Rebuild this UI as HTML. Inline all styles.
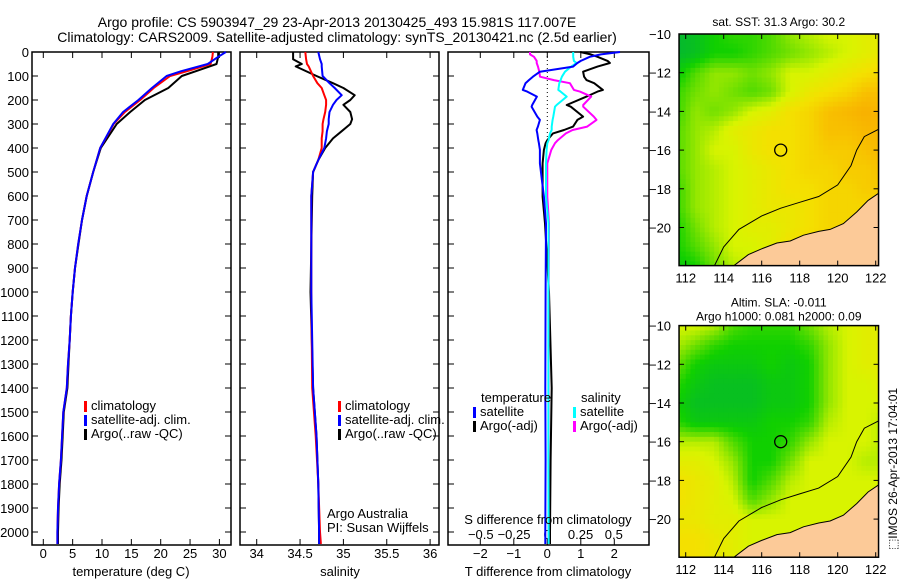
<!DOCTYPE html>
<html><head><meta charset="utf-8"><style>
html,body{margin:0;padding:0;background:#fff;}
svg{display:block;font-family:"Liberation Sans",sans-serif;}
text{font-size:13px;fill:#000;}
</style></head><body>
<svg id="fig" width="900" height="580" viewBox="0 0 900 580" xmlns="http://www.w3.org/2000/svg">
<text x="337" y="27" text-anchor="middle" style="font-size:14px">Argo profile: CS 5903947_29 23-Apr-2013 20130425_493 15.981S 117.007E</text>
<text x="337" y="42" text-anchor="middle" style="font-size:14px">Climatology: CARS2009. Satellite-adjusted climatology: synTS_20130421.nc (2.5d earlier)</text>
<g id="g-maps"></g>
<g id="g-panels"></g>
<text transform="translate(897,469) rotate(-90)" text-anchor="middle" style="font-size:12px">⬚IMOS 26-Apr-2013 17:04:01</text>
</svg>
<script>
// ---------- data ----------
const depths = [0,20,50,80,100,150,200,250,300,400,500,600,700,800,900,1000,1100,1200,1300,1400,1500,1600,1700,1800,1900,2000,2050];
const tempClim = [28.9,28.8,28.5,24.5,21.6,18.8,16.5,13.9,12.0,9.7,8.5,7.4,6.6,5.95,5.4,5.0,4.7,4.5,4.2,4.0,3.4,3.2,3.0,2.7,2.5,2.4,2.4];
const tempSat = [31.1,29.8,28.0,23.5,21.0,18.5,16.2,13.6,11.9,9.7,8.5,7.4,6.6,5.95,5.4,5.0,4.7,4.5,4.2,4.0,3.4,3.2,3.0,2.7,2.5,2.4,2.4];
const tempArgo = [29.8,29.8,29.5,26.0,23.6,21.3,17.3,14.8,12.5,9.8,8.5,7.4,6.6,6.0,5.4,5.0,4.7,4.5,4.3,4.1,3.5,3.3,3.1,2.8,2.6,2.5,2.5];
const salDepths = [0,30,50,60,100,130,150,180,200,220,250,280,300,330,360,400,450,500,600,1000,1400,1600,1800,2000,2050];
const salClim = [34.56,34.57,34.58,34.6,34.65,34.7,34.75,34.78,34.8,34.8,34.79,34.77,34.76,34.76,34.75,34.75,34.71,34.65,34.63,34.63,34.64,34.68,34.71,34.73,34.74];
const salSat = [34.71,34.73,34.75,34.75,34.76,34.84,34.9,34.98,34.92,34.88,34.84,34.83,34.83,34.81,34.8,34.78,34.71,34.65,34.63,34.63,34.65,34.69,34.71,34.72,34.72];
const salArgo = [34.42,34.42,34.52,34.45,34.69,34.88,35.0,35.13,35.08,35.0,35.08,35.1,35.08,34.98,34.88,34.79,34.71,34.65,34.64,34.62,34.65,34.69,34.71,34.72,34.72];
const diffDepths = [0,10,20,37,46,61,82,103,117,130,158,165,186,221,228,269,283,311,325,339,367,380,408,464,603,714,1000,1400,1700,2000,2050];
const dTSat = [2.17,1.6,1.27,1.0,0.9,0.77,-0.22,-0.43,-0.55,-0.65,-0.73,-0.6,-0.31,-0.45,-0.47,-0.3,-0.22,-0.28,-0.32,-0.3,-0.27,-0.25,-0.22,-0.22,-0.1,-0.04,-0.05,-0.06,-0.05,-0.06,-0.06];
const dTArgo = [0.98,1.3,1.5,1.8,1.87,1.5,1.07,1.1,1.17,1.4,1.66,1.5,1.17,0.58,0.7,1.07,0.9,0.77,0.5,0.17,0,-0.05,-0.1,-0.14,-0.14,-0.07,0.05,0.13,0.1,0.08,0.08];
const dSSat = [0.195,0.195,0.195,0.2,0.22,0.18,0.133,0.11,0.1,0.09,0.083,0.1,0.146,0.07,0.058,0.045,0.04,0.033,0.033,0.02,0.01,0.0,-0.005,-0.01,-0.01,0.01,0.008,0.008,0.008,0.01,0.01];
const dSArgo = [-0.13,-0.13,-0.1,-0.08,-0.08,-0.07,-0.06,-0.055,0.05,0.17,0.2,0.245,0.33,0.27,0.27,0.35,0.37,0.3,0.19,0.14,0.08,0.058,0.03,0.0,0.0,0.013,0.01,0.01,0.01,0.01,0.01];
const depthTicks = [0,100,200,300,400,500,600,700,800,900,1000,1100,1200,1300,1400,1500,1600,1700,1800,1900,2000];
const tempTicks = [0,5,10,15,20,25,30];
const salTicks = [34,34.5,35,35.5,36];
const dTTicks = [-2,-1,0,1,2];
const dSTicks = [-0.5,-0.25,0,0.25,0.5];
const lonTicks = [112,114,116,118,120,122];
const latTicks = [-10,-12,-14,-16,-18,-20];
// map grids: rows lat -10..-22, cols lon 111.5..122.5 (0 green .. 1 yellow .. 2 orange)
const sstGrid = [
[0.1,0.2,0.4,0.5,0.5,0.6,0.8,0.9,1.0,1.0,1.1,1.1],
[0.1,0.2,0.4,0.4,0.5,0.6,0.7,0.8,0.9,1.0,1.1,1.2],
[0.3,0.6,0.8,0.8,0.7,0.8,1.0,1.0,1.1,1.2,1.3,1.4],
[0.5,0.7,0.8,0.7,0.6,0.7,1.0,1.2,1.3,1.4,1.6,1.6],
[0.5,0.8,0.7,0.8,1.0,1.1,1.3,1.4,1.6,1.7,1.8,1.7],
[0.6,0.8,0.9,1.1,1.2,1.3,1.3,1.4,1.6,1.6,1.7,1.7],
[0.6,0.8,1.0,1.0,1.2,1.3,1.3,1.4,1.5,1.5,1.6,1.7],
[0.6,0.8,0.9,1.0,1.1,1.2,1.3,1.4,1.4,1.5,1.5,1.6],
[0.5,0.8,0.9,1.0,1.1,1.2,1.3,1.3,1.4,1.4,1.5,1.5],
[0.5,0.8,0.9,1.0,1.1,1.2,1.2,1.3,1.4,1.4,1.4,1.4],
[0.4,0.7,0.9,1.0,1.1,1.1,1.2,1.3,1.4,1.4,1.4,1.4],
[0.4,0.6,0.8,1.0,1.0,1.1,1.3,1.4,1.4,1.4,1.4,1.4],
[0.3,0.4,0.7,0.9,1.0,1.1,1.3,1.4,1.4,1.4,1.4,1.4]];
const slaGrid = [
[1.0,1.0,0.9,0.6,0.5,0.5,0.5,0.7,0.9,1.0,1.1,1.1],
[0.9,0.7,0.5,0.4,0.4,0.4,0.4,0.5,0.8,1.0,1.1,1.1],
[0.7,0.4,0.3,0.3,0.3,0.4,0.3,0.4,0.8,1.0,1.1,1.1],
[0.5,0.3,0.2,0.2,0.2,0.3,0.3,0.4,0.8,1.0,1.0,1.1],
[0.4,0.2,0.2,0.2,0.2,0.3,0.3,0.4,0.8,1.0,1.0,1.0],
[0.5,0.3,0.3,0.3,0.3,0.4,0.4,0.5,0.9,1.0,1.0,0.9],
[0.9,0.9,0.9,0.6,0.4,0.4,0.5,0.8,1.0,1.0,1.0,0.9],
[1.1,1.1,1.0,0.8,0.4,0.4,0.7,1.0,1.0,1.0,0.9,0.9],
[1.3,1.2,1.1,0.9,0.4,0.6,0.9,1.0,1.0,1.0,1.0,1.0],
[1.3,1.2,1.1,1.0,0.6,0.8,1.0,1.0,1.0,1.0,1.0,1.0],
[1.2,1.2,1.1,1.1,1.0,1.0,1.0,1.0,1.0,1.0,1.0,1.0],
[1.3,1.3,1.2,1.1,1.0,1.0,1.0,1.0,1.0,1.0,1.0,1.0],
[1.3,1.3,1.2,1.1,1.0,1.0,1.0,1.0,1.0,1.0,1.0,1.0]];
const coastLon = [114.5,115.3,116.0,116.8,117.5,118.2,119.0,119.6,120.3,121.0,121.6,122.2,122.3,122.3];
const coastLat = [-22,-21.4,-21.1,-20.8,-20.7,-20.4,-20.2,-20.1,-19.8,-19.2,-18.6,-18.2,-18.2,-22];
const isoLon = [113.5,114.0,114.8,116.0,117.0,118.0,119.0,120.0,120.7,121.0,121.4,122.2];
const isoLat = [-22,-21.0,-20.1,-19.4,-19.0,-18.7,-18.4,-17.8,-16.8,-16.0,-15.3,-14.9];
const argoLon = 117.0, argoLat = -16.0;

// ---------- helpers ----------
const NS="http://www.w3.org/2000/svg";
function mk(tag, attrs, parent, txt){const e=document.createElementNS(NS,tag);for(const k in attrs)e.setAttribute(k,attrs[k]);if(txt!==undefined)e.textContent=txt;parent.appendChild(e);return e;}
const panels=document.getElementById('g-panels');
const maps=document.getElementById('g-maps');
const yD = d => 52 + d*0.24;
const PT=52, PB=545;
const xT = v => 43.3 + v*5.87;
const xS = v => 256.7 + (v-34)*86.7;
const xdT = v => 547.3 + v*33.5;
const xdS = v => 547.3 + v*133;

function frame(x0,x1,name){
  const r=mk('rect',{x:x0,y:PT,width:x1-x0,height:PB-PT,fill:'none',stroke:'#000','stroke-width':1.5},panels);
  
  
  depthTicks.forEach(d=>{
    const y=yD(d);
    mk('line',{x1:x0,x2:x0+6,y1:y,y2:y,stroke:'#000'},panels);
    mk('line',{x1:x1-6,x2:x1,y1:y,y2:y,stroke:'#000'},panels);
  });
}
function xticks(vals,fx,labelY,name,inside){
  vals.forEach(v=>{
    const x=fx(v);
    if(!inside){
      mk('line',{x1:x,x2:x,y1:PB,y2:PB-6,stroke:'#000'},panels);
      mk('line',{x1:x,x2:x,y1:PT,y2:PT+6,stroke:'#000'},panels);
    }
    const t=mk('text',{x:x,y:labelY,'text-anchor':'middle'},panels,String(v).replace('-','\u2212'));
    
    
  });
}
function line(xs,ds,fx,color,name,w){
  const pts=xs.map((v,i)=>fx(v).toFixed(1)+','+yD(ds[i]).toFixed(1)).join(' ');
  const p=mk('polyline',{points:pts,fill:'none',stroke:color,'stroke-width':w||2,'stroke-linejoin':'round'},panels);
  
  
}
function legend(x,y,color,label,name){
  mk('rect',{x:x,y:y-9,width:3,height:11,fill:color},panels);
  const t=mk('text',{x:x+7,y:y},panels,label);
  
  
}

// ---------- panel 1: temperature ----------
frame(32,231,'temperature-panel');
depthTicks.forEach(d=>{
  const t=mk('text',{x:29,y:yD(d)+5,'text-anchor':'end'},panels,String(d));
  
  
});
xticks(tempTicks,xT,558,'temp-tick-label');
line(tempArgo,depths,xT,'#000','temp-argo-line');
line(tempClim,depths,xT,'#f00','temp-clim-line');
line(tempSat,depths,xT,'#00f','temp-sat-line');
legend(84,410,'#f00','climatology','legend-climatology');
legend(84,424,'#00f','satellite-adj. clim.','legend-satellite');
legend(84,438,'#000','Argo(..raw -QC)','legend-argo');
let t1=mk('text',{x:131,y:576,'text-anchor':'middle'},panels,'temperature (deg C)');



// ---------- panel 2: salinity ----------
frame(240,439,'salinity-panel');
xticks(salTicks,xS,558,'sal-tick-label');
line(salArgo,salDepths,xS,'#000','sal-argo-line');
line(salClim,salDepths,xS,'#f00','sal-clim-line');
line(salSat,salDepths,xS,'#00f','sal-sat-line');
legend(338,410,'#f00','climatology','legend-climatology-2');
legend(338,424,'#00f','satellite-adj. clim.','legend-satellite-2');
legend(338,438,'#000','Argo(..raw -QC)','legend-argo-2');
let t2=mk('text',{x:327,y:518},panels,'Argo Australia');


let t3=mk('text',{x:327,y:532},panels,'PI: Susan Wijffels');


let t4=mk('text',{x:340,y:576,'text-anchor':'middle'},panels,'salinity');



// ---------- panel 3: differences ----------
frame(448,649,'difference-panel');
mk('line',{x1:xdT(0),x2:xdT(0),y1:PT,y2:yD(380),stroke:'#000','stroke-dasharray':'1,3'},panels);
xticks(dTTicks,xdT,558,'dT-tick-label');
xticks(dSTicks,xdS,539,'dS-tick-label',true);
line(dTArgo,diffDepths,xdT,'#000','dT-argo-line');
line(dSArgo,diffDepths,xdS,'#f0f','dS-argo-line');
line(dSSat,diffDepths,xdS,'#0ff','dS-sat-line');
line(dTSat,diffDepths,xdT,'#00f','dT-sat-line');
let t5=mk('text',{x:481,y:402},panels,'temperature');


let t6=mk('text',{x:581,y:402},panels,'salinity');


legend(473,416,'#00f','satellite','legend-dT-satellite');
legend(473,430,'#000','Argo(-adj)','legend-dT-argo');
legend(573,416,'#0ff','satellite','legend-dS-satellite');
legend(573,430,'#f0f','Argo(-adj)','legend-dS-argo');
let t7=mk('text',{x:548,y:524,'text-anchor':'middle'},panels,'S difference from climatology');


let t8=mk('text',{x:548,y:576,'text-anchor':'middle'},panels,'T difference from climatology');



// ---------- maps ----------
const stops=[[0,[0,176,64]],[0.4,[16,208,0]],[0.7,[112,224,0]],[1.0,[216,244,0]],[1.3,[244,224,0]],[1.6,[248,192,0]],[1.9,[248,168,0]]];
function cmap(v){
  if(v<=stops[0][0])return stops[0][1];
  for(let i=1;i<stops.length;i++){if(v<=stops[i][0]){const a=stops[i-1],b=stops[i],f=(v-a[0])/(b[0]-a[0]);return a[1].map((c,k)=>Math.round(c+(b[1][k]-c)*f));}}
  return stops[stops.length-1][1];
}
function sample(g,lon,lat){
  let c=Math.max(0,Math.min(10.999,lon-111.5)), r=Math.max(0,Math.min(11.999,-10-lat));
  const c0=Math.floor(c),r0=Math.floor(r),fc=c-c0,fr=r-r0;
  return g[r0][c0]*(1-fc)*(1-fr)+g[r0][c0+1]*fc*(1-fr)+g[r0+1][c0]*(1-fc)*fr+g[r0+1][c0+1]*fc*fr;
}
function drawMap(g,top,name,title1,title2){
  const X=lon=>685.7+(lon-112)*19;
  const Y=lat=>top+(-10-lat)*19.35;
  const L=X(111.65),R=X(122.15),T=Y(-10),B=Y(-21.97);
  const grp=mk('g',{},maps);
  
  
  const cid='clip-'+name;
  const cp=mk('clipPath',{id:cid},grp);mk('rect',{x:L,y:T,width:R-L,height:B-T},cp);
  const cells=mk('g',{'clip-path':'url(#'+cid+')'},grp);
  const step=0.25;
  for(let lon=111.5;lon<122.25;lon+=step){
    for(let lat=-10;lat>-22.1;lat-=step){
      const v=sample(g,lon+step/2,lat-step/2);
      const c=cmap(v);
      mk('rect',{x:X(lon).toFixed(2),y:Y(lat).toFixed(2),width:(step*19+0.6).toFixed(2),height:(step*19.35+0.6).toFixed(2),fill:'rgb('+c.join(',')+')'},cells);
    }
  }
  const land=mk('polygon',{points:coastLon.map((v,i)=>X(v).toFixed(1)+','+Y(coastLat[i]).toFixed(1)).join(' '),fill:'#fcca98',stroke:'#000','stroke-width':1},cells);
  
  
  const iso=mk('polyline',{points:isoLon.map((v,i)=>X(v).toFixed(1)+','+Y(isoLat[i]).toFixed(1)).join(' '),fill:'none',stroke:'#000','stroke-width':1},cells);
  
  
  const m=mk('circle',{cx:X(argoLon),cy:Y(argoLat),r:6,fill:'none',stroke:'#000','stroke-width':1.3},grp);
  
  
  mk('rect',{x:L,y:T,width:R-L,height:B-T,fill:'none',stroke:'#000','stroke-width':1.5},grp);
  lonTicks.forEach(v=>{
    mk('line',{x1:X(v),x2:X(v),y1:B,y2:B-5,stroke:'#000'},grp);
    mk('line',{x1:X(v),x2:X(v),y1:T,y2:T+5,stroke:'#000'},grp);
    const t=mk('text',{x:X(v),y:B+17,'text-anchor':'middle'},grp,String(v));
    
    
  });
  latTicks.forEach(v=>{
    mk('line',{x1:L,x2:L+5,y1:Y(v),y2:Y(v),stroke:'#000'},grp);
    mk('line',{x1:R-5,x2:R,y1:Y(v),y2:Y(v),stroke:'#000'},grp);
    const t=mk('text',{x:L-8,y:Y(v)+5,'text-anchor':'end'},grp,String(v).replace('-','\u2212'));
    
    
  });
  const tt=mk('text',{x:(L+R)/2,y:title2?T-19:T-8,'text-anchor':'middle','style':'font-size:12px'},grp,title1);
  
  
  if(title2){
    const t2=mk('text',{x:(L+R)/2,y:T-5,'text-anchor':'middle','style':'font-size:12px'},grp,title2);
    
    
  }
}
drawMap(sstGrid,34,'sst-map','sat. SST: 31.3 Argo: 30.2');
drawMap(slaGrid,325.6,'sla-map','Altim. SLA: -0.011','Argo h1000: 0.081 h2000: 0.09');
</script>
</body></html>
